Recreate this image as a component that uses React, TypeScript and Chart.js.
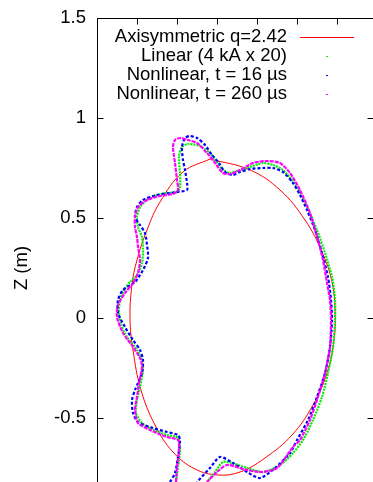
import React, { useEffect, useRef } from "react";
import { Chart, registerables } from "chart.js";

Chart.register(...registerables);

// ---- data (R in m, Z in m) ----
const seriesLabels = [
  "Axisymmetric q=2.42",
  "Linear (4 kA x 20)",
  "Nonlinear, t = 16 \u00b5s",
  "Nonlinear, t = 260 \u00b5s",
];

const axisymR = [1.565, 1.765, 1.915, 2.04, 2.125, 2.175, 2.19, 2.185, 2.15, 2.08, 1.975, 1.84, 1.715, 1.605, 1.49, 1.38, 1.29, 1.22, 1.18, 1.165, 1.175, 1.2, 1.25, 1.315, 1.43, 1.565];
const axisymZ = [0.795, 0.74, 0.64, 0.49, 0.33, 0.18, 0.04, -0.11, -0.275, -0.435, -0.585, -0.7, -0.77, -0.785, -0.755, -0.67, -0.535, -0.36, -0.16, 0, 0.165, 0.29, 0.44, 0.58, 0.73, 0.795];

const linearR = [1.395, 1.405, 1.415, 1.405, 1.35, 1.28, 1.225, 1.195, 1.2, 1.215, 1.23, 1.225, 1.2, 1.15, 1.12, 1.11, 1.115, 1.135, 1.165, 1.2, 1.225, 1.23, 1.225, 1.205, 1.2, 1.215, 1.25, 1.3, 1.35, 1.4, 1.415, 1.415, 1.41, 1.425, 1.455, 1.515, 1.565, 1.6, 1.63, 1.665, 1.715, 1.765, 1.83, 1.88, 1.93, 2.0, 2.05, 2.1, 2.14, 2.175, 2.19, 2.19, 2.18, 2.155, 2.125, 2.08, 2.03, 1.98, 1.915, 1.83, 1.75, 1.675, 1.63, 1.59, 1.55];
const linearZ = [-0.82, -0.745, -0.66, -0.6, -0.585, -0.56, -0.525, -0.475, -0.41, -0.345, -0.26, -0.21, -0.16, -0.095, -0.035, 0.03, 0.09, 0.14, 0.18, 0.215, 0.275, 0.34, 0.405, 0.455, 0.505, 0.555, 0.59, 0.615, 0.625, 0.63, 0.655, 0.725, 0.805, 0.855, 0.87, 0.86, 0.825, 0.78, 0.74, 0.725, 0.74, 0.755, 0.775, 0.765, 0.74, 0.655, 0.555, 0.44, 0.325, 0.205, 0.09, -0.01, -0.145, -0.275, -0.395, -0.51, -0.61, -0.675, -0.735, -0.77, -0.75, -0.725, -0.72, -0.77, -0.82];

const nl16R = [1.365, 1.39, 1.405, 1.415, 1.405, 1.35, 1.28, 1.205, 1.18, 1.175, 1.19, 1.205, 1.225, 1.23, 1.215, 1.18, 1.14, 1.105, 1.105, 1.13, 1.19, 1.23, 1.255, 1.25, 1.24, 1.215, 1.19, 1.2, 1.23, 1.3, 1.4, 1.45, 1.45, 1.44, 1.43, 1.425, 1.44, 1.465, 1.5, 1.54, 1.575, 1.61, 1.64, 1.68, 1.715, 1.765, 1.83, 1.88, 1.93, 1.98, 2.015, 2.05, 2.09, 2.125, 2.155, 2.17, 2.175, 2.165, 2.14, 2.1, 2.055, 2.0, 1.965, 1.89, 1.815, 1.75, 1.68, 1.615, 1.565, 1.5];
const nl16Z = [-0.82, -0.775, -0.695, -0.61, -0.585, -0.57, -0.55, -0.52, -0.475, -0.41, -0.36, -0.325, -0.275, -0.21, -0.16, -0.11, -0.045, 0.025, 0.09, 0.14, 0.18, 0.24, 0.3, 0.365, 0.425, 0.465, 0.505, 0.555, 0.59, 0.615, 0.63, 0.64, 0.675, 0.74, 0.79, 0.855, 0.9, 0.91, 0.9, 0.865, 0.815, 0.775, 0.73, 0.715, 0.73, 0.745, 0.75, 0.75, 0.73, 0.675, 0.615, 0.54, 0.44, 0.325, 0.205, 0.09, -0.01, -0.145, -0.275, -0.395, -0.51, -0.61, -0.675, -0.75, -0.8, -0.77, -0.725, -0.695, -0.75, -0.82];

const nl260R = [1.395, 1.4, 1.41, 1.405, 1.35, 1.265, 1.205, 1.19, 1.2, 1.21, 1.225, 1.215, 1.18, 1.13, 1.1, 1.105, 1.14, 1.18, 1.205, 1.215, 1.205, 1.2, 1.19, 1.19, 1.205, 1.25, 1.315, 1.38, 1.405, 1.4, 1.39, 1.38, 1.39, 1.415, 1.455, 1.5, 1.55, 1.59, 1.63, 1.665, 1.715, 1.78, 1.85, 1.915, 1.965, 2.015, 2.065, 2.105, 2.13, 2.15, 2.165, 2.17, 2.165, 2.14, 2.105, 2.065, 2.015, 1.98, 1.9, 1.825, 1.75, 1.65, 1.6, 1.55];
const nl260Z = [-0.82, -0.745, -0.66, -0.61, -0.595, -0.56, -0.525, -0.46, -0.395, -0.325, -0.245, -0.2, -0.145, -0.075, 0.005, 0.065, 0.125, 0.175, 0.225, 0.29, 0.355, 0.405, 0.455, 0.505, 0.555, 0.59, 0.61, 0.62, 0.64, 0.69, 0.775, 0.855, 0.89, 0.9, 0.89, 0.875, 0.825, 0.775, 0.725, 0.72, 0.74, 0.775, 0.785, 0.775, 0.725, 0.64, 0.525, 0.39, 0.29, 0.175, 0.09, -0.01, -0.145, -0.275, -0.395, -0.51, -0.61, -0.645, -0.75, -0.77, -0.76, -0.735, -0.77, -0.82];

const yTicks = [-0.5, 0, 0.5, 1, 1.5];
const xTicks = [1.0, 1.2, 1.4, 1.6, 1.8, 2.0, 2.2];

const seriesColors = ["#ff0000", "#00ee00", "#0000ff", "#ff00ff"];

const FONT = "'Liberation Sans', Arial, Helvetica, sans-serif";

function pts(r: number[], z: number[]) {
  return r.map((v, i) => ({ x: v, y: z[i] }));
}

const framePlugin = {
  id: "gnuFrame",
  afterDatasetsDraw(chart: any) {
    const { ctx, chartArea: a, scales } = chart;
    ctx.save();
    ctx.strokeStyle = "#000";
    ctx.lineWidth = 1;
    const L = Math.round(a.left) + 0.5;
    const R = Math.round(a.right) - 0.5;
    const T = Math.round(a.top) + 0.5;
    const B = Math.round(a.bottom) - 0.5;
    ctx.beginPath();
    ctx.moveTo(L, T);
    ctx.lineTo(R, T);
    ctx.lineTo(R, B);
    ctx.lineTo(L, B);
    ctx.closePath();
    ctx.stroke();
    const tl = 6;
    ctx.beginPath();
    for (const v of yTicks) {
      const y = Math.round(scales.y.getPixelForValue(v)) + 0.5;
      ctx.moveTo(L, y);
      ctx.lineTo(L + tl, y);
      ctx.moveTo(R, y);
      ctx.lineTo(R - tl, y);
    }
    for (const v of xTicks) {
      const x = Math.round(scales.x.getPixelForValue(v)) + 0.5;
      ctx.moveTo(x, T);
      ctx.lineTo(x, T + tl);
      ctx.moveTo(x, B);
      ctx.lineTo(x, B - tl);
    }
    ctx.stroke();

    // legend (gnuplot style: right aligned text, sample on the right)
    ctx.font = `18.5px ${FONT}`;
    ctx.textAlign = "right";
    ctx.textBaseline = "middle";
    const textX = a.left + 190;
    const sampleX0 = a.left + 203;
    const sampleX1 = a.left + 257;
    chart.data.datasets.forEach((ds: any, i: number) => {
      const y = a.top + 19 + i * 19;
      ctx.fillStyle = "#000";
      ctx.fillText(ds.label, textX, y);
      ctx.fillStyle = seriesColors[i];
      if (i === 0) {
        ctx.fillRect(sampleX0, Math.round(y), sampleX1 - sampleX0, 1);
      } else {
        ctx.fillRect((sampleX0 + sampleX1) / 2 - 1, Math.round(y), 2, 1);
      }
    });
    ctx.restore();
  },
};

export default function App() {
  const ref = useRef<HTMLCanvasElement | null>(null);
  useEffect(() => {
    if (!ref.current) return;
    const series = [
      pts(axisymR, axisymZ),
      pts(linearR, linearZ),
      pts(nl16R, nl16Z),
      pts(nl260R, nl260Z),
    ];
    const dashes = [[], [2, 1], [3, 2], [4, 1]];
    const chart = new Chart(ref.current, {
      type: "scatter",
      data: {
        datasets: series.map((d, i) => ({
          label: seriesLabels[i],
          data: d,
          showLine: true,
          borderColor: seriesColors[i],
          backgroundColor: seriesColors[i],
          borderWidth: i === 0 ? 1 : 2.2,
          borderDash: dashes[i],
          pointRadius: 0,
          tension: i === 0 ? 0.4 : 0.25,
          order: 4 - i,
        })),
      },
      options: {
        responsive: false,
        animation: false,
        layout: { padding: { top: 18, right: 6, left: 0, bottom: 0 } },
        plugins: { legend: { display: false }, tooltip: { enabled: false } },
        scales: {
          x: {
            type: "linear",
            min: 1.0,
            max: 2.385,
            display: false,
          },
          y: {
            type: "linear",
            min: -1.0,
            max: 1.5,
            position: "left",
            afterBuildTicks: (s: any) => {
              s.ticks = yTicks.map((v) => ({ value: v }));
            },
            afterFit: (s: any) => {
              s.width = 97;
              s.paddingTop = 0;
              s.paddingBottom = 0;
            },
            grid: { display: false, drawTicks: true, tickLength: 11 },
            border: { display: false },
            ticks: {
              color: "#000",
              padding: 0,
              font: { family: FONT, size: 18.5 },
              callback: (v: any) => String(v),
            },
            title: {
              display: true,
              text: "Z (m)",
              color: "#000",
              font: { family: FONT, size: 18.5 },
              padding: { top: 11, bottom: 0 },
            },
          },
        },
      },
      plugins: [framePlugin],
    });
    return () => chart.destroy();
  }, []);

  return (
    <div
      style={{
        position: "fixed",
        left: 0,
        top: 0,
        width: 373,
        height: 482,
        overflow: "hidden",
        background: "#fff",
      }}
    >
      <canvas ref={ref} width={380} height={518} style={{ display: "block" }} />
    </div>
  );
}
